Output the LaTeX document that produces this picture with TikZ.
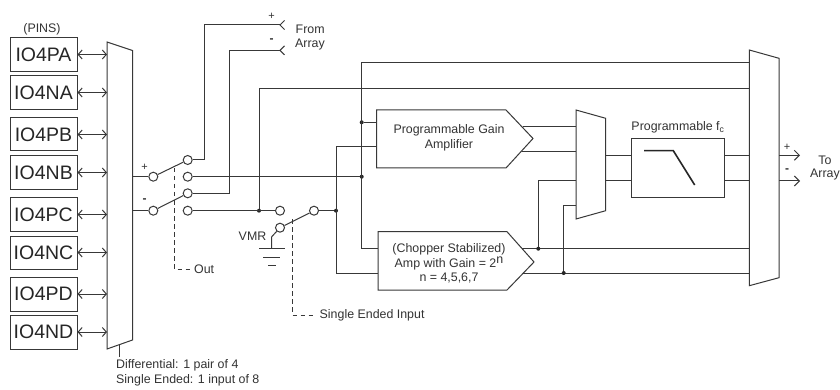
\documentclass[tikz,border=0pt]{standalone}
\usepackage{fontspec}
\setmainfont{Liberation Sans}
\usetikzlibrary{arrows.meta}
\definecolor{ln}{HTML}{383838}
\definecolor{tx}{HTML}{333333}
\tikzset{
  wire/.style={draw=ln,line width=1pt},
  pin/.style={draw=ln,line width=1pt,fill=white,minimum width=67pt,inner sep=0pt,text=black!85,font=\fontsize{19.5}{20}\selectfont},
  lbl/.style={text=tx,inner sep=0pt,font=\fontsize{12.4}{14.6}\selectfont},
  sw/.style={circle,draw=ln,line width=1pt,fill=white,minimum size=9pt,inner sep=0pt},
  jn/.style={circle,fill=black!85,minimum size=4pt,inner sep=0pt},
  pinarrow/.style={wire,{Straight Barb[length=4pt,width=9pt]}-{Straight Barb[length=4pt,width=9pt]}},
  outarrow/.style={wire,-{Straight Barb[length=5pt,width=10pt]}},
  dashline/.style={draw=ln,line width=1pt,dash pattern=on 4.5pt off 3.5pt}
}
\begin{document}
\begin{tikzpicture}[x=1pt,y=-1pt]
\useasboundingbox[fill=white] (0,0) rectangle (840,390);
% pins
\node[pin,minimum height=34pt] (pa) at (43.5,54.5) {IO4PA};
\node[pin,minimum height=34pt] (na) at (43.5,92.5) {IO4NA};
\node[pin,minimum height=33pt] (pb) at (43.5,134.5) {IO4PB};
\node[pin,minimum height=34pt] (nb) at (43.5,172.5) {IO4NB};
\node[pin,minimum height=34pt] (pc) at (43.5,214.5) {IO4PC};
\node[pin,minimum height=33pt] (nc) at (43.5,252.5) {IO4NC};
\node[pin,minimum height=34pt] (pd) at (43.5,294) {IO4PD};
\node[pin,minimum height=34pt] (nd) at (43.5,332) {IO4ND};
\node[lbl] (pins) at (42,29) {(PINS)};
% first mux
\draw[wire] (107,42) coordinate (m1tl) -- (132.5,50.5) -- (132.5,340) -- (107,349) coordinate (m1bl) -- cycle;
\foreach \p in {pa,na,pb,nb,pc,nc,pd,nd}{
  \coordinate (\p m) at (107,0);
  \draw[pinarrow] (\p.east) -- (\p.east -| \p m);
}
\coordinate (m1tail) at (119.5,345);
\coordinate (m1tailend) at (119.5,357);
\draw[wire] (m1tail) -- (m1tailend);
\node[lbl,anchor=west] (dif) at (116,365.5) {Differential: 1 pair of 4};
\node[lbl,anchor=west] (sing) at (116,380.5) {Single Ended: 1 input of 8};
% switch circles
\node[sw] (s1p) at (153.3,176.7) {};
\node[sw] (s1m) at (153.3,210.7) {};
\node[sw] (a1) at (187.7,160) {};
\node[sw] (a2) at (187.7,176.7) {};
\node[sw] (a3) at (187.7,193.3) {};
\node[sw] (a4) at (187.7,210.7) {};
\node[sw] (b1) at (280,210.7) {};
\node[sw] (b2) at (280,227.7) {};
\node[sw] (b3) at (314,210.7) {};
\coordinate (mp) at (132.5,176.7);
\coordinate (mm) at (132.5,210.7);
\draw[wire] (mp) -- (s1p);
\draw[wire] (mm) -- (s1m);
\draw[wire] (s1p) -- (a1);
\draw[wire] (s1m) -- (a3);
\draw[wire] (b2) -- (b3);
\node[lbl,font=\fontsize{11}{11}\selectfont] (plusa) at (144.5,167.5) {+};
\node[lbl,font=\bfseries\fontsize{12}{10}\selectfont] (minusa) at (144.5,201) {-};
% from array
\coordinate (fp) at (280,25);
\coordinate (fm) at (280,50.3);
\coordinate (fpb) at (204,25);
\coordinate (fmb) at (229.3,50.3);
\draw[wire] (a1) -| (fpb) -- (fp);
\draw[wire] (a3) -| (fmb) -- (fm);
\draw[wire] (284.5,20.5) -- (fp) -- (284.5,29.5);
\draw[wire] (284.5,45.8) -- (fm) -- (284.5,54.8);
\node[lbl,font=\fontsize{11}{11}\selectfont] (plusb) at (271.5,16.5) {+};
\node[lbl,font=\bfseries\fontsize{12}{10}\selectfont] (minusb) at (271.5,41) {-};
\node[lbl,anchor=west] (from) at (295.5,29.5) {From};
\node[lbl,anchor=west] (arr) at (295,44.5) {Array};
% dashed controls
\coordinate (d1t) at (174.5,168);
\coordinate (d1b) at (174.5,269);
\coordinate (d1e) at (190,269);
\draw[dashline] (d1t) -- (d1b) -- (d1e);
\node[lbl,anchor=west] (outl) at (194,269.5) {Out};
\coordinate (d2t) at (292.7,219);
\coordinate (d2b) at (292.7,315);
\coordinate (d2e) at (316,315);
\draw[dashline] (d2t) -- (d2b) -- (d2e);
\node[lbl,anchor=west] (sei) at (319.5,315.5) {Single Ended Input};
% VMR and ground
\node[lbl,anchor=east] (vmr) at (266.5,236) {VMR};
\coordinate (gt) at (271.5,248.5);
\coordinate (gl) at (259,248.5);
\coordinate (gr) at (285,248.5);
\draw[wire] (b2) -- (271.5,237) -- (gt);
\draw[wire] (gl) -- (gr);
\draw[wire] (263,257) -- (280,257);
\draw[wire] (268,265.5) -- (276,265.5);
% amplifiers
\draw[wire] (376.7,110) coordinate (pgatl) -- (506,110) -- (533,138.5) -- (506,168) -- (376.7,168) coordinate (pgabl) -- cycle;
\node[lbl,align=center] (pgat) at (449,137.5) {Programmable Gain\\Amplifier};
\draw[wire] (378,231.7) coordinate (chtl) -- (507,231.7) -- (534,262) -- (507,290) -- (378,290) coordinate (chbl) -- cycle;
\node[lbl,align=center] (cht) at (449,263.5) {(Chopper Stabilized)\\Amp with Gain = 2\raisebox{3.5pt}{n}\\n = 4,5,6,7};
% second mux, filter, output mux
\draw[wire] (576,110) -- (605.7,118.3) -- (605.7,210.7) -- (576,219) -- cycle;
\node[draw=ln,line width=1pt,minimum width=93pt,minimum height=59.4pt,inner sep=0pt] (flt) at (677.5,168) {};
\node[lbl] (fc) at (678,127) {Programmable f\textsubscript{c}};
\draw[draw=black!85,line width=1.6pt] (644,150.7) -- (673.3,150.7) -- (694.7,185);
\draw[wire] (749.3,50) -- (779,58.3) -- (779,277.7) -- (749.3,285.7) -- cycle;
% wires in the middle
\coordinate (t1a) at (361.7,63);
\coordinate (t1b) at (749.3,63);
\coordinate (t2a) at (259,88.3);
\coordinate (t2b) at (749.3,88.3);
\node[jn] (j1) at (361.7,122.3) {};
\node[jn] (j2) at (361.7,176.7) {};
\node[jn] (j3) at (259,210.7) {};
\node[jn] (j4) at (336,210.7) {};
\coordinate (pg1) at (376.7,122.3);
\coordinate (pg2) at (376.7,146.7);
\coordinate (pg2b) at (336,146.7);
\coordinate (ch1a) at (361.7,248.7);
\coordinate (ch1) at (378,248.7);
\coordinate (ch2a) at (336,273);
\coordinate (ch2) at (378,273);
\draw[wire] (t1b) -- (t1a) -- (ch1a) -- (ch1);
\draw[wire] (t2b) -- (t2a) -- (j3);
\draw[wire] (a2) -- (j2);
\draw[wire] (a4) -- (b1);
\draw[wire] (b3) -- (j4);
\draw[wire] (j1) -- (pg1);
\draw[wire] (pg2) -- (pg2b) -- (ch2a) -- (ch2);
% amp to mux
\coordinate (pa1) at (523,126.7);
\coordinate (pa1m) at (576,126.7);
\coordinate (pa2) at (521.5,151.3);
\coordinate (pa2m) at (576,151.3);
\draw[wire] (pa1) -- (pa1m);
\draw[wire] (pa2) -- (pa2m);
\coordinate (co1) at (522,248.7);
\coordinate (co1m) at (749.3,248.7);
\coordinate (co2) at (522.5,273);
\coordinate (co2m) at (749.3,273);
\draw[wire] (co1) -- (co1m);
\draw[wire] (co2) -- (co2m);
\node[jn] (j5) at (538.3,248.7) {};
\node[jn] (j6) at (563.7,273) {};
\coordinate (m2a) at (538.3,181);
\coordinate (m2am) at (576,181);
\coordinate (m2b) at (563.7,205.7);
\coordinate (m2bm) at (576,205.7);
\draw[wire] (j5) -- (m2a) -- (m2am);
\draw[wire] (j6) -- (m2b) -- (m2bm);
% through the filter
\coordinate (m2o1) at (605.7,155.3);
\coordinate (m2o2) at (605.7,181);
\coordinate (m3i1) at (749.3,155.3);
\coordinate (m3i2) at (749.3,181);
\coordinate (m3o1) at (779,155.3);
\coordinate (m3o2) at (779,181);
\coordinate (ar1) at (800,155.3);
\coordinate (ar2) at (800,181);
\draw[wire] (m2o1) -- (m2o1 -| flt.west);
\draw[wire] (m2o2) -- (m2o2 -| flt.west);
\draw[wire] (m3i1 -| flt.east) -- (m3i1);
\draw[wire] (m3i2 -| flt.east) -- (m3i2);
\draw[outarrow] (m3o1) -- (ar1);
\draw[outarrow] (m3o2) -- (ar2);
\node[lbl,font=\fontsize{11}{11}\selectfont] (plusc) at (787,147) {+};
\node[lbl,font=\bfseries\fontsize{12}{10}\selectfont] (minusc) at (787,171) {-};
\node[lbl] (tol) at (825,160) {To};
\node[lbl] (tol2) at (825,175) {Array};
\end{tikzpicture}
\end{document}
